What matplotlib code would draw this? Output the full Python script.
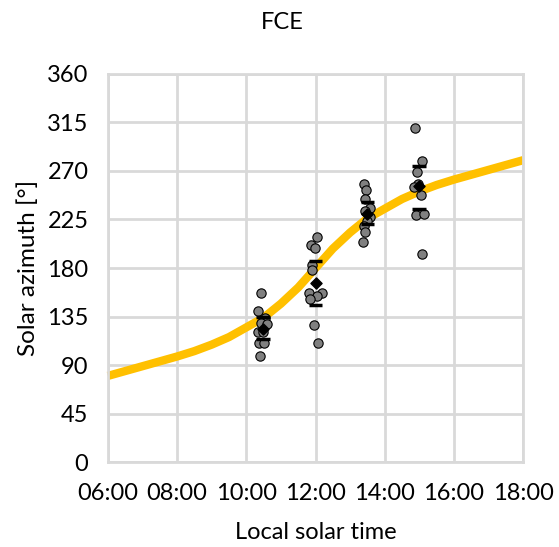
import matplotlib
matplotlib.use("Agg")
import matplotlib.pyplot as plt

plt.rcParams['font.family'] = ['Lato', 'DejaVu Sans']

# modelled solar azimuth over the day (hours, degrees)
curve_hours = [6, 6.5, 7, 7.5, 8, 8.5, 9, 9.5, 10, 10.5, 11, 11.5, 12,
               12.5, 13, 13.5, 14, 14.5, 15, 15.5, 16, 16.5, 17, 17.5, 18]
curve_azimuth = [80, 84.5, 89, 93.5, 98, 103, 109, 116, 125, 134, 147, 162, 180,
                 198, 213, 226, 235, 244, 251, 257, 262, 266.5, 271, 275.5, 280]

# observations
obs_hours = [10.42, 10.34, 10.54, 10.42, 10.60, 10.34, 10.48, 10.36, 10.51, 10.39,
             12.04, 11.87, 11.98, 11.90, 11.90, 11.81, 12.18, 12.04, 11.84, 11.95, 12.07,
             13.40, 13.46, 13.43, 13.57, 13.43, 13.57, 13.49, 13.40, 13.43, 13.37,
             14.87, 15.08, 14.93, 14.96, 14.84, 15.05, 14.90, 15.13, 15.08]
obs_azimuth = [156.8, 140.1, 133.6, 129.0, 128.0, 120.6, 120.6, 110.4, 110.4, 98.3,
               208.7, 201.3, 198.5, 182.8, 178.1, 156.8, 156.8, 154.0, 151.2, 127.1, 110.4,
               257.9, 252.4, 244.0, 235.7, 232.9, 227.3, 223.6, 219.0, 213.4, 204.1,
               309.9, 279.3, 269.1, 258.0, 255.2, 247.7, 229.2, 230.1, 193.0]

# group means and 95% CI bounds
group_hours = [10.47, 12.0, 13.5, 15.0]
group_mean = [123.1, 166.1, 230.1, 256.5]
group_upper = [134.5, 186.5, 240.8, 274.8]
group_lower = [114.1, 145.7, 220.4, 234.6]

xticks = [6, 8, 10, 12, 14, 16, 18]
xlabels = ["06:00", "08:00", "10:00", "12:00", "14:00", "16:00", "18:00"]
yticks = [0, 45, 90, 135, 180, 225, 270, 315, 360]

fig = plt.figure(figsize=(5.59, 5.47), dpi=100)
ax = fig.add_axes([0.193, 0.155, 0.743, 0.71])

ax.plot(curve_hours, curve_azimuth, color="#FFC000", lw=6, zorder=2,
        solid_capstyle="butt", clip_on=False)
ax.scatter(obs_hours, obs_azimuth, s=45, color="#808080", edgecolor="black",
           linewidth=0.8, zorder=3)
ax.hlines(group_upper, [h - 0.2 for h in group_hours], [h + 0.2 for h in group_hours],
          color="black", lw=2.5, zorder=4)
ax.hlines(group_lower, [h - 0.2 for h in group_hours], [h + 0.2 for h in group_hours],
          color="black", lw=2.5, zorder=4)
ax.scatter(group_hours, group_mean, marker="D", s=32, color="black", zorder=5)

ax.set_xlim(6, 18)
ax.set_ylim(0, 360)
ax.set_xticks(xticks)
ax.set_xticklabels(xlabels)
ax.set_yticks(yticks)
ax.tick_params(length=0, labelsize=17)
ax.tick_params(axis="x", pad=15)
ax.tick_params(axis="y", pad=14)
ax.grid(True, color="#d9d9d9", lw=2)
ax.set_axisbelow(True)
for s in ax.spines.values():
    s.set_color("#d9d9d9")
    s.set_linewidth(2)

ax.set_xlabel("Local solar time", fontsize=17, labelpad=13)
ax.set_ylabel("Solar azimuth [°]", fontsize=17.5, labelpad=6)
ax.set_title("FCE", fontsize=17, pad=32, x=0.42)

fig.savefig("out.png", dpi=100)
